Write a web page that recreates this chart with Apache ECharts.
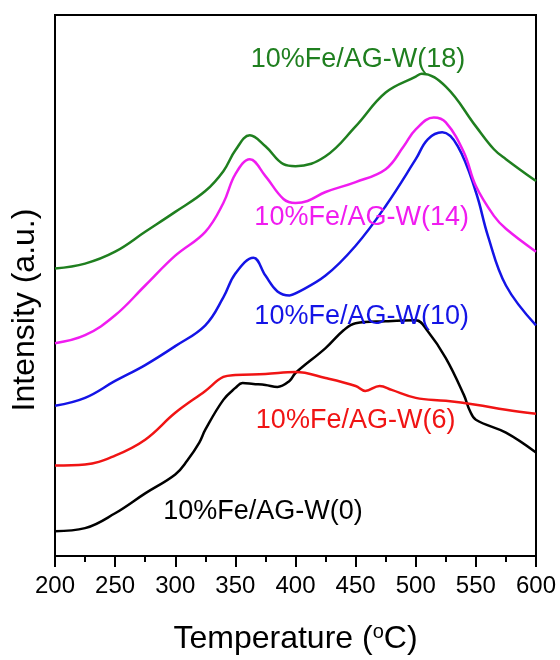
<!DOCTYPE html>
<html>
<head>
<meta charset="utf-8">
<script src="https://cdn.jsdelivr.net/npm/echarts@6/dist/echarts.min.js"></script>
<style>html,body{margin:0;padding:0;background:#fff}#c{width:560px;height:660px}</style>
</head>
<body>
<div id="c"></div>
<script>
// Temperature ticks
var xTicks = [200, 250, 300, 350, 400, 450, 500, 550, 600];

// Series data (temperature, intensity in arbitrary units)
var tW18 = [200,225,250,275,300,325,340,350,362,375,390,400,425,450,475,500,505,525,550,565,575,600];
var vW18 = [289,294,306,326,346,367,387,408,423,412,394,392,402,432,466,482,485,472,432,409,399,377];

var tW14 = [200,225,250,275,300,325,340,350,362,375,390,400,410,425,450,475,490,500,515,525,540,550,565,575,600];
var vW14 = [214,222,242,272,302,326,355,384,399,382,359,355,357,366,376,389,412,429,441,436,406,372,342,329,306];

var tW10 = [200,225,250,275,300,325,340,350,365,375,385,395,400,425,450,475,500,510,522,535,550,560,575,600];
var vW10 = [151,159,176,192,211,232,260,284,300,282,266,262,264,282,312,352,399,419,426,412,366,322,272,232];

var tW6 = [200,225,250,275,300,325,340,350,375,400,425,450,458,470,480,500,525,550,575,600];
var vW6 = [91,92,101,117,144,166,180,182,183,185,179,171,166,171,167,159,156,152,147,143];

var tW0 = [200,225,250,275,300,310,320,325,340,350,356,365,375,385,395,400,425,440,450,475,500,510,525,540,545,550,575,600];
var vW0 = [25,28,43,63,82,96,114,127,157,169,174,173,172,170,176,184,209,227,234,236,237,226,199,162,146,137,124,104];

var seriesNames = ['10%Fe/AG-W(18)','10%Fe/AG-W(14)','10%Fe/AG-W(10)','10%Fe/AG-W(6)','10%Fe/AG-W(0)'];
var seriesColors = ['#1f7f1f','#f01cf0','#1414e6','#f01414','#000000'];
var labelPos = [[452,499],[455,340],[455,241],[450,136],[373,45]];

function pairs(t, v){ return t.map(function(x,i){ return [x, v[i]]; }); }
var allT = [tW18, tW14, tW10, tW6, tW0];
var allV = [vW18, vW14, vW10, vW6, vW0];

var chart = echarts.init(document.getElementById('c'), null, {renderer:'canvas'});
var FONT = 'Liberation Sans, Arial, sans-serif';
var series = allT.map(function(t, i){
  return {
    name: seriesNames[i], type: 'line', data: pairs(t, allV[i]),
    smooth: 0.4, showSymbol: false,
    lineStyle: {color: seriesColors[i], width: 2.5},
    itemStyle: {color: seriesColors[i]}, z: 5 - i
  };
});

chart.setOption({
  animation: false,
  backgroundColor: '#fff',
  grid: {left: 55, right: 24, top: 15, bottom: 101, show: true, borderColor: '#000', borderWidth: 2, containLabel: false},
  xAxis: {
    type: 'value', min: 200, max: 600, interval: 50,
    axisLine: {show: true, lineStyle: {color: '#000', width: 2}},
    axisTick: {show: true, inside: false, length: 11, lineStyle: {color: '#000', width: 2}},
    minorTick: {show: true, splitNumber: 2, length: 6, lineStyle: {color: '#000', width: 2}},
    splitLine: {show: false},
    axisLabel: {color: '#000', fontSize: 24, fontFamily: FONT, margin: 18},
    name: 'Temperature ({sup|o}C)', nameLocation: 'middle', nameGap: 66,
    nameTextStyle: {color: '#000', fontSize: 32, fontFamily: FONT,
      rich: {sup: {fontSize: 20, fontFamily: FONT, color: '#000', verticalAlign: 'top', padding: [0,0,14,0]}}}
  },
  yAxis: {
    type: 'value', min: 0, max: 544,
    axisLine: {show: true, lineStyle: {color: '#000', width: 2}},
    axisTick: {show: false}, axisLabel: {show: false}, splitLine: {show: false}
  },
  series: series
});

var g = [];
labelPos.forEach(function(p, i){
  var px = chart.convertToPixel({gridIndex: 0}, p);
  g.push({type: 'text', x: px[0], y: px[1], z: 100,
    style: {text: seriesNames[i], fill: seriesColors[i], font: '27px ' + FONT, textAlign: 'center', textVerticalAlign: 'middle'}});
});
g.push({type: 'text', x: 25, y: 310, rotation: Math.PI/2, z: 100,
  style: {text: 'Intensity (a.u.)', fill: '#000', font: '32px ' + FONT, textAlign: 'center', textVerticalAlign: 'middle'}});
chart.setOption({graphic: g});
</script>
</body>
</html>
